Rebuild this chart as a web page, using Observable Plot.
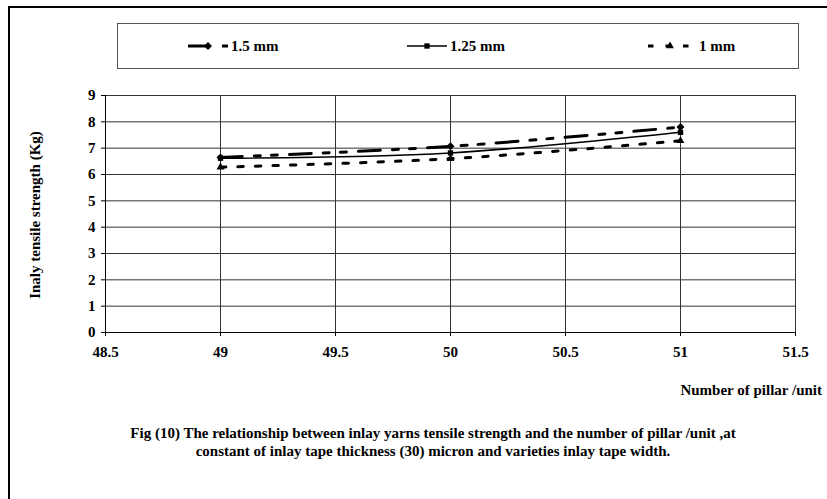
<!DOCTYPE html>
<html>
<head>
<meta charset="utf-8">
<script src="https://cdn.jsdelivr.net/npm/d3@7"></script>
<script src="https://cdn.jsdelivr.net/npm/@observablehq/plot@0.6"></script>
<style>
  html, body { margin: 0; padding: 0; background: #fff; }
  #chart { position: relative; width: 827px; height: 499px; overflow: hidden; }
  #chart svg { position: absolute; left: 0; top: 0; }
</style>
</head>
<body>
<div id="chart"></div>
<script>
// ---- data ----
const pillars = [49, 50, 51];
const series = ["1.5 mm", "1.25 mm", "1 mm"];
const strength15 = [6.65, 7.07, 7.8];
const strength125 = [6.62, 6.82, 7.6];
const strength1 = [6.28, 6.6, 7.28];
const xTicks = [48.5, 49, 49.5, 50, 50.5, 51, 51.5];
const yTicks = [0, 1, 2, 3, 4, 5, 6, 7, 8, 9];
const yLabel = "Inaly tensile strength (Kg)";
const xLabel = "Number of pillar /unit";
const captionLines = [
  "Fig (10) The relationship between inlay yarns tensile strength and the number of pillar /unit ,at",
  "constant of inlay tape thickness (30) micron and varieties inlay tape width."
];

const values = [strength15, strength125, strength1];
const rows = series.flatMap((s, i) => pillars.map((p, j) => ({series: s, x: p, y: values[i][j]})));

const styles = {
  "1.5 mm": {dash: "22,12,6,11,6,12", width: 3, symbol: "diamond2", r: 3.6},
  "1.25 mm": {dash: null, width: 1.5, symbol: "square2", r: 3.4},
  "1 mm": {dash: "5.5,12", width: 3, symbol: "triangle2", r: 3.8}
};

const font = "Liberation Serif, Times New Roman, serif";

const marks = [
  Plot.gridX(xTicks, {stroke: "#333", strokeOpacity: 1, strokeWidth: 1}),
  Plot.gridY(yTicks, {stroke: "#333", strokeOpacity: 1, strokeWidth: 1}),
  Plot.axisX({ticks: xTicks, tickFormat: d => String(d), tickSize: 4, tickPadding: 10, label: null, fontSize: 15, fontWeight: "bold", fontFamily: font}),
  Plot.axisY({ticks: yTicks, tickFormat: d => String(d), tickSize: 4, tickPadding: 6, label: null, fontSize: 15, fontWeight: "bold", fontFamily: font}),
  Plot.ruleX([48.5], {stroke: "#000", strokeWidth: 1}),
  Plot.ruleY([0], {stroke: "#000", strokeWidth: 1})
];
for (const s of series) {
  const st = styles[s];
  const data = rows.filter(d => d.series === s);
  marks.push(Plot.line(data, {x: "x", y: "y", curve: "catmull-rom", stroke: "#000", strokeWidth: st.width, strokeDasharray: st.dash || undefined}));
  marks.push(Plot.dot(data, {x: "x", y: "y", symbol: () => st.symbol, r: st.r, fill: "#000", stroke: "none"}));
}

const chart = Plot.plot({
  width: 827,
  height: 499,
  marginLeft: 105,
  marginRight: 32,
  marginTop: 95,
  marginBottom: 167,
  x: {domain: [48.5, 51.5]},
  y: {domain: [0, 9]},
  style: {fontFamily: font, background: "#fff", color: "#000"},
  marks
});
document.getElementById("chart").appendChild(chart);

// ---- decorations (frame, legend, titles, caption) ----
const svg = d3.select(chart);
const g = svg.append("g").attr("text-anchor", "start").attr("font-family", font).attr("font-weight", "bold");
// outer frame (left and top edges visible)
g.append("line").attr("x1", 9).attr("x2", 9).attr("y1", 7).attr("y2", 499).attr("stroke", "#000").attr("stroke-width", 2);
g.append("line").attr("x1", 8).attr("x2", 827).attr("y1", 7).attr("y2", 7).attr("stroke", "#000").attr("stroke-width", 2);

// legend box
g.append("rect").attr("x", 117.5).attr("y", 23.5).attr("width", 681).attr("height", 45)
  .attr("fill", "#fff").attr("stroke", "#555").attr("stroke-width", 1);
const legendItems = [
  {s: "1.5 mm", x1: 188, x2: 228, mx: 208, tx: 231},
  {s: "1.25 mm", x1: 407, x2: 447, mx: 427, tx: 450},
  {s: "1 mm", x1: 648, x2: 694, mx: 670, tx: 699}
];
const ly = 46;
for (const it of legendItems) {
  const st = styles[it.s];
  g.append("line").attr("x1", it.x1).attr("x2", it.x2).attr("y1", ly).attr("y2", ly)
    .attr("stroke", "#000").attr("stroke-width", st.width).attr("stroke-dasharray", st.dash);
  const symType = it.s === "1.5 mm" ? d3.symbolDiamond2 : it.s === "1.25 mm" ? d3.symbolSquare2 : d3.symbolTriangle2;
  g.append("path").attr("transform", `translate(${it.mx},${ly})`)
    .attr("d", d3.symbol(symType, Math.PI * st.r * st.r)()).attr("fill", "#000");
  g.append("text").attr("x", it.tx).attr("y", ly).attr("dy", "0.35em").attr("text-anchor", "start")
    .attr("font-size", 15).text(it.s);
}

// y axis title
g.append("text").attr("transform", "translate(35,215) rotate(-90)").attr("text-anchor", "middle")
  .attr("dy", "0.35em").attr("font-size", 15).text(yLabel);
// x axis title
g.append("text").attr("x", 822).attr("y", 390).attr("text-anchor", "end").attr("dy", "0.35em")
  .attr("font-size", 15).text(xLabel);
// caption
captionLines.forEach((t, i) => {
  g.append("text").attr("x", 433).attr("y", 433 + i * 18).attr("text-anchor", "middle").attr("dy", "0.35em")
    .attr("font-size", 15).text(t);
});
</script>
</body>
</html>
